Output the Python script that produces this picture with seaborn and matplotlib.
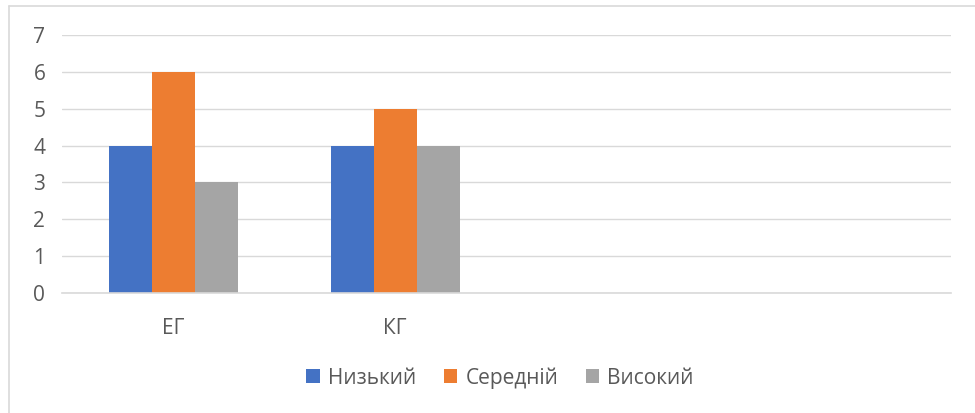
import pandas as pd
import matplotlib.pyplot as plt
import seaborn as sns

groups = ['ЕГ', 'КГ']
levels = ['Низький', 'Середній', 'Високий']
low = [4, 4]
mid = [6, 5]
high = [3, 4]
colors = ['#4472C4', '#ED7D31', '#A5A5A5']

df = pd.DataFrame({
    'group': groups * 3,
    'level': [levels[0]] * 2 + [levels[1]] * 2 + [levels[2]] * 2,
    'value': low + mid + high,
})

sns.set_theme(style='white')
plt.rcParams['font.family'] = ['Open Sans', 'DejaVu Sans']
text_color = '#595959'

fig = plt.figure(figsize=(9.75, 4.13), dpi=100)
ax = fig.add_axes([0.0636, 0.2906, 0.9114, 0.6247])

sns.barplot(data=df, x='group', y='value', hue='level', order=groups,
            hue_order=levels, palette=colors, width=0.58, gap=0,
            saturation=1, linewidth=0, ax=ax, legend=True)

ax.set_xlim(-0.5, 3.5)
ax.set_ylim(0, 7)
ax.set_yticks(range(0, 8))
ax.yaxis.grid(True, color='#D9D9D9', linewidth=1.0)
ax.set_axisbelow(True)
for s in ['top', 'right', 'left']:
    ax.spines[s].set_visible(False)
ax.spines['bottom'].set_color('#D9D9D9')
ax.spines['bottom'].set_linewidth(1.2)
ax.set_xlabel('')
ax.set_ylabel('')
ax.tick_params(axis='y', length=0, pad=12, labelsize=15, labelcolor=text_color)
ax.tick_params(axis='x', length=0, pad=18, labelsize=15, labelcolor=text_color)

leg = ax.legend(loc='center', bbox_to_anchor=(0.513, 1 - 378 / 413), bbox_transform=fig.transFigure,
                ncol=3, frameon=False, fontsize=15, handlelength=0.65, handleheight=0.65,
                handletextpad=0.4, columnspacing=1.3)
for t in leg.get_texts():
    t.set_color(text_color)

# chart border (top and left edges visible in the reference)
fig.add_artist(plt.Line2D([9 / 975, 1], [1 - 6 / 413, 1 - 6 / 413], color='#D9D9D9', linewidth=1.2,
                          transform=fig.transFigure))
fig.add_artist(plt.Line2D([9 / 975, 9 / 975], [0, 1 - 6 / 413], color='#D9D9D9', linewidth=1.2,
                          transform=fig.transFigure))

fig.savefig('out.png', dpi=100)
